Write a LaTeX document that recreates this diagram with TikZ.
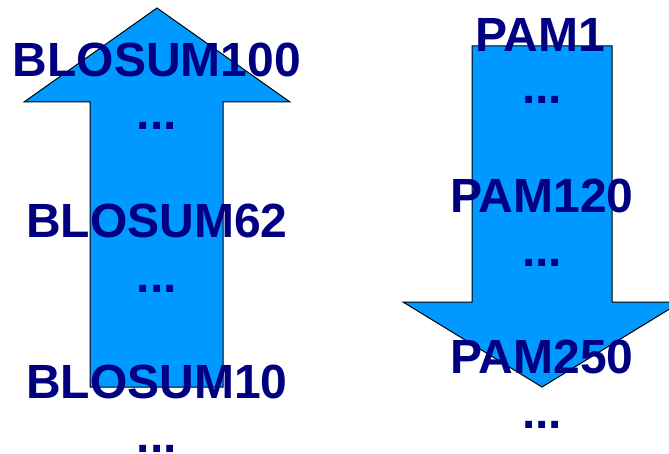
\documentclass[tikz,border=0pt]{standalone}
\usepackage{fontspec}
\setmainfont{Liberation Sans}
\usepackage{tikz}
\definecolor{arrowblue}{RGB}{0,153,255}
\definecolor{labelnavy}{RGB}{0,0,128}
\tikzset{
  scorelabel/.style={anchor=base, inner sep=0pt, text=labelnavy, font=\fontsize{48}{48}\selectfont\bfseries},
  bigarrow/.style={fill=arrowblue, draw=black, line width=1pt, line join=miter},
}

\begin{document}
\begin{tikzpicture}[x=1pt, y=-1pt]
\useasboundingbox (0,0) rectangle (669,454);
\clip (0,0) rectangle (669,454);
% left arrow, up
\draw[bigarrow] (90,387) -- (90,102) -- (24,102) -- (157,8) -- (290,102) -- (223,102) -- (223,387) -- cycle;
% right arrow, down
\draw[bigarrow] (472,46) -- (612,46) -- (612,302) -- (681,302) -- (542,387) -- (403,302) -- (472,302) -- cycle;
% BLOSUM labels
\node[scorelabel] (b100) at (157,77) {BLOSUM100};
\node[scorelabel] (bdots1) at (157,130) {...};
\node[scorelabel] (b62) at (157,238) {BLOSUM62};
\node[scorelabel] (bdots2) at (157,292) {...};
\node[scorelabel] (b10) at (157,398) {BLOSUM10};
\node[scorelabel] (bdots3) at (157,452) {...};
% PAM labels
\node[scorelabel] (p1) at (540,52) {PAM1};
\node[scorelabel] (pdots1) at (542,104) {...};
\node[scorelabel] (p120) at (542,213) {PAM120};
\node[scorelabel] (pdots2) at (542,266) {...};
\node[scorelabel] (p250) at (542,373) {PAM250};
\node[scorelabel] (pdots3) at (542,428) {...};
\end{tikzpicture}
\end{document}
